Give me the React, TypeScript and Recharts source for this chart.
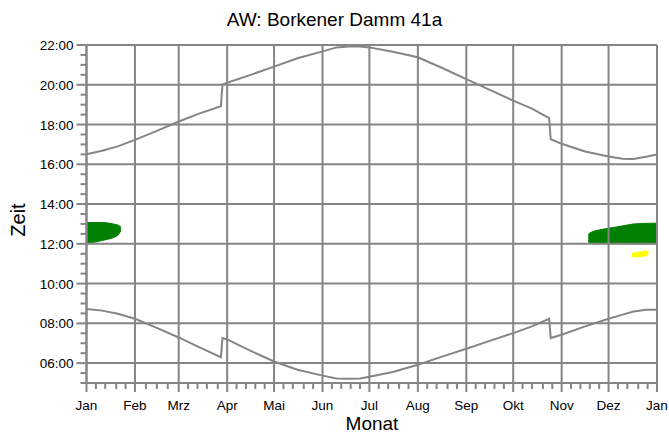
import React from 'react';
import { ComposedChart, Line, Area, XAxis, YAxis, ReferenceLine } from 'recharts';

const GRAY = '#858585';
const FONT = '"Liberation Sans", Arial, sans-serif';

// X axis: months (day of year)
const monthLabels = ['Jan', 'Feb', 'Mrz', 'Apr', 'Mai', 'Jun', 'Jul', 'Aug', 'Sep', 'Okt', 'Nov', 'Dez', 'Jan'];
const monthStartDays = [0, 31, 59, 90, 120, 151, 181, 212, 243, 273, 304, 334, 365];
const minorDayTicks = [6, 12, 19, 25, 38, 45, 52, 65, 71, 77, 84, 96, 102, 108, 114, 126, 132, 139, 145, 157, 163, 169, 175, 187, 193, 200, 206, 218, 224, 231, 237, 249, 255, 261, 267, 279, 285, 292, 298, 310, 316, 322, 328, 340, 346, 353, 359];

// Y axis: time of day (hours)
const hourTicks = [6, 8, 10, 12, 14, 16, 18, 20, 22];
const hourLabels = ['06:00', '08:00', '10:00', '12:00', '14:00', '16:00', '18:00', '20:00', '22:00'];
const minorHourTicks = [5, 5.5, 6.5, 7, 7.5, 8.5, 9, 9.5, 10.5, 11, 11.5, 12.5, 13, 13.5, 14.5, 15, 15.5, 16.5, 17, 17.5, 18.5, 19, 19.5, 20.5, 21, 21.5];

// Sunrise / sunset (hours) sampled by day of year
const sunDays = [0, 10, 20, 31, 45, 59, 72, 86, 87, 90, 105, 120, 135, 151, 160, 168, 175, 181, 196, 212, 228, 243, 258, 273, 285, 296, 297, 304, 319, 334, 343, 350, 358, 365];
const sunsetHours = [16.51, 16.68, 16.9, 17.23, 17.68, 18.15, 18.55, 18.92, 20.02, 20.1, 20.5, 20.91, 21.33, 21.68, 21.88, 21.93, 21.92, 21.88, 21.66, 21.38, 20.83, 20.28, 19.74, 19.2, 18.8, 18.32, 17.26, 17.03, 16.64, 16.39, 16.28, 16.27, 16.38, 16.5];
const sunriseHours = [8.72, 8.64, 8.48, 8.23, 7.77, 7.29, 6.8, 6.3, 7.26, 7.19, 6.62, 6.08, 5.67, 5.37, 5.23, 5.22, 5.23, 5.31, 5.55, 5.92, 6.34, 6.72, 7.12, 7.51, 7.85, 8.23, 7.26, 7.43, 7.85, 8.23, 8.44, 8.6, 8.68, 8.68];

// Shadow periods (green) - January
const greenJanDays = [0, 5, 9, 13, 17, 20, 22];
const greenJanLow = [12.07, 12.08, 12.15, 12.22, 12.3, 12.42, 12.65];
const greenJanHigh = [13.07, 13.07, 13.07, 13.06, 13.0, 12.95, 12.85];

// Shadow periods (green) - December
const greenDecDays = [321, 322, 325, 330, 335, 340, 345, 350, 358, 365];
const greenDecLow = [12.1, 12.03, 12.0, 12.0, 12.0, 12.0, 12.0, 11.99, 11.99, 12.0];
const greenDecHigh = [12.45, 12.55, 12.65, 12.73, 12.8, 12.86, 12.93, 13.0, 13.03, 13.04];

// Yellow period - December
const yellowDays = [349, 351, 355, 358, 359.5];
const yellowLow = [11.38, 11.34, 11.36, 11.4, 11.48];
const yellowHigh = [11.5, 11.55, 11.6, 11.65, 11.6];

type Row = {
  day: number;
  sunset?: number;
  sunrise?: number;
  greenJan?: [number, number];
  greenDec?: [number, number];
  yellow?: [number, number];
};

function buildTable(): Row[] {
  const map = new Map<number, Row>();
  const get = (d: number) => {
    let r = map.get(d);
    if (!r) { r = { day: d }; map.set(d, r); }
    return r;
  };
  sunDays.forEach((d, i) => { const r = get(d); r.sunset = sunsetHours[i]; r.sunrise = sunriseHours[i]; });
  greenJanDays.forEach((d, i) => { get(d).greenJan = [greenJanLow[i], greenJanHigh[i]]; });
  greenDecDays.forEach((d, i) => { get(d).greenDec = [greenDecLow[i], greenDecHigh[i]]; });
  yellowDays.forEach((d, i) => { get(d).yellow = [yellowLow[i], yellowHigh[i]]; });
  return Array.from(map.values()).sort((a, b) => a.day - b.day);
}

const data = buildTable();
const xTicks = [...monthStartDays, ...minorDayTicks].sort((a, b) => a - b);
const yTicks = [...hourTicks, ...minorHourTicks].sort((a, b) => a - b);

const XTick = (props: any) => {
  const { x, y, payload } = props;
  const idx = monthStartDays.indexOf(payload.value);
  const major = idx >= 0;
  return (
    <g>
      <line x1={x} x2={x} y1={y} y2={y + (major ? 9 : 6)} stroke={GRAY} strokeWidth={2} />
      {major && (
        <text x={x} y={y + 27} textAnchor="middle" fontSize={13.5} fontFamily={FONT} fill="#000">
          {monthLabels[idx]}
        </text>
      )}
    </g>
  );
};

const YTick = (props: any) => {
  const { x, y, payload } = props;
  const idx = hourTicks.indexOf(payload.value);
  const major = idx >= 0;
  return (
    <g>
      <line x1={x - (major ? 10 : 6)} x2={x} y1={y} y2={y} stroke={GRAY} strokeWidth={2} />
      {major && (
        <text x={x - 13} y={y + 5} textAnchor="end" fontSize={13.5} fontFamily={FONT} fill="#000">
          {hourLabels[idx]}
        </text>
      )}
    </g>
  );
};

const MARGIN_TOP = 45;
const MARGIN_RIGHT = 12;
const AXIS_W = 86.5;
const AXIS_H = 51;

export default function App() {
  return (
    <div style={{ position: 'absolute', left: 0, top: 0, width: 669, height: 434, background: '#fff', fontFamily: FONT, overflow: 'hidden' }}>
      {/* base layer: axes and shadow periods */}
      <div style={{ position: 'absolute', left: 0, top: 0 }}>
        <ComposedChart width={669} height={434} data={data} margin={{ top: MARGIN_TOP, right: MARGIN_RIGHT, left: 0, bottom: 0 }}>
          <XAxis
            dataKey="day"
            type="number"
            domain={[0, 365]}
            ticks={xTicks}
            interval={0}
            tickSize={0}
            tickMargin={0}
            tick={<XTick />}
            height={AXIS_H}
            axisLine={{ stroke: GRAY, strokeWidth: 2 }}
            allowDataOverflow
          />
          <YAxis
            type="number"
            domain={[5, 22]}
            ticks={yTicks}
            interval={0}
            tickSize={0}
            tickMargin={0}
            tick={<YTick />}
            width={AXIS_W}
            axisLine={{ stroke: GRAY, strokeWidth: 2 }}
            allowDataOverflow
          />
          <Area dataKey="greenJan" type="linear" connectNulls fill="#008000" fillOpacity={1} stroke="#008000" strokeWidth={1} isAnimationActive={false} dot={false} activeDot={false} />
          <Area dataKey="greenDec" type="linear" connectNulls fill="#008000" fillOpacity={1} stroke="#008000" strokeWidth={1} isAnimationActive={false} dot={false} activeDot={false} />
          <Area dataKey="yellow" type="monotone" connectNulls fill="#ffff00" fillOpacity={1} stroke="#ffff00" strokeWidth={1} isAnimationActive={false} dot={false} activeDot={false} />
        </ComposedChart>
      </div>
      {/* top layer: grid lines and sunrise / sunset curves */}
      <div style={{ position: 'absolute', left: 0, top: 0, pointerEvents: 'none' }}>
        <ComposedChart width={669} height={434} data={data} margin={{ top: MARGIN_TOP, right: MARGIN_RIGHT, left: AXIS_W, bottom: AXIS_H }}>
          <XAxis dataKey="day" type="number" domain={[0, 365]} hide allowDataOverflow />
          <YAxis type="number" domain={[5, 22]} hide allowDataOverflow />
          {hourTicks.map((h) => (
            <ReferenceLine key={'h' + h} y={h} stroke={GRAY} strokeWidth={2} />
          ))}
          {monthStartDays.map((d) => (
            <ReferenceLine key={'m' + d} x={d} stroke={GRAY} strokeWidth={2} />
          ))}
          <Line dataKey="sunset" type="linear" stroke={GRAY} strokeWidth={2} dot={false} activeDot={false} connectNulls isAnimationActive={false} />
          <Line dataKey="sunrise" type="linear" stroke={GRAY} strokeWidth={2} dot={false} activeDot={false} connectNulls isAnimationActive={false} />
        </ComposedChart>
      </div>
      <div style={{ position: 'absolute', left: 0, width: 669, top: 8, textAlign: 'center', fontSize: 19, color: '#000', lineHeight: '24px' }}>
        AW: Borkener Damm 41a
      </div>
      <div style={{ position: 'absolute', left: 18, top: 220, transform: 'translate(-50%, -50%) rotate(-90deg)', fontSize: 20, color: '#000', whiteSpace: 'nowrap', lineHeight: '22px' }}>
        Zeit
      </div>
      <div style={{ position: 'absolute', left: 372, top: 424, transform: 'translate(-50%, -50%)', fontSize: 19, color: '#000', whiteSpace: 'nowrap', lineHeight: '20px' }}>
        Monat
      </div>
    </div>
  );
}
